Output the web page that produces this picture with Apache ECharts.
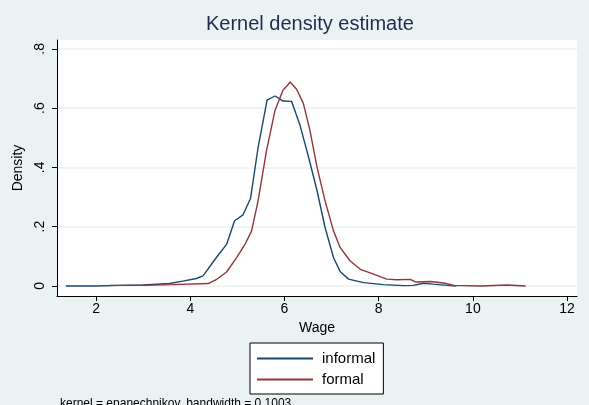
<!DOCTYPE html>
<html><head><meta charset="utf-8">
<script src="https://cdn.jsdelivr.net/npm/echarts@6/dist/echarts.min.js"></script>
<style>html,body{margin:0;padding:0;background:#EAF2F3}#c{width:589px;height:405px}</style>
</head><body><div id="c"></div>
<script>
const informalX = [1.36,2.0,2.5,3.0,3.56,3.84,4.13,4.27,4.55,4.77,4.94,5.12,5.28,5.44,5.63,5.80,5.97,6.15,6.33,6.51,6.69,6.86,7.04,7.18,7.36,7.68,8.10,8.53,8.73,8.95,9.16,9.52,9.65];
const informalY = [0.0,0.0,0.002,0.003,0.008,0.016,0.025,0.034,0.095,0.14,0.22,0.24,0.296,0.468,0.627,0.641,0.624,0.623,0.542,0.435,0.322,0.198,0.096,0.049,0.023,0.011,0.0045,0.001,0.002,0.009,0.006,0.001,0.0];
const formalX = [2.28,2.92,3.63,4.38,4.55,4.77,4.98,5.16,5.30,5.44,5.62,5.80,5.97,6.05,6.12,6.26,6.40,6.54,6.69,6.86,7.04,7.18,7.39,7.61,7.89,8.17,8.39,8.67,8.78,9.10,9.38,9.60,10.16,10.73,11.12];
const formalY = [0.002,0.002,0.0045,0.008,0.021,0.047,0.095,0.14,0.185,0.288,0.458,0.593,0.661,0.675,0.688,0.663,0.616,0.525,0.401,0.288,0.186,0.13,0.085,0.056,0.04,0.023,0.021,0.022,0.0135,0.0147,0.010,0.002,0.0,0.003,0.0];
const xTicks = [2,4,6,8,10,12];
const yTicks = [0,0.2,0.4,0.6,0.8];
const yTickLabels = ['0','.2','.4','.6','.8'];
const seriesNames = ['informal','formal'];

const zip = (a,b)=>a.map((v,i)=>[v,b[i]]);
const chart = echarts.init(document.getElementById('c'));
const font = 'Liberation Sans, Arial, sans-serif';
chart.setOption({
  backgroundColor:'#EAF2F3',
  animation:false,
  title:[{text:'Kernel density estimate',left:201,top:9,
    textStyle:{fontFamily:font,fontSize:20,fontWeight:'normal',color:'#1E2D4F'}},
    {text:'kernel = epanechnikov, bandwidth = 0.1003',left:55,top:393,
    textStyle:{fontFamily:font,fontSize:12,fontWeight:'normal',color:'#000'}}],
  grid:{left:57,right:12,top:40,bottom:109,show:true,backgroundColor:'#fff',borderWidth:0},
  xAxis:{type:'value',min:1.17,max:12.21,
    name:'Wage',nameLocation:'middle',nameGap:24,nameTextStyle:{fontFamily:font,fontSize:14,color:'#000'},
    axisLine:{onZero:false,lineStyle:{color:'#000',width:1}},
    axisTick:{customValues:xTicks,length:5,lineStyle:{color:'#000'}},
    axisLabel:{customValues:xTicks,fontFamily:font,fontSize:14,color:'#000',margin:6},
    splitLine:{show:false}},
  yAxis:{type:'value',min:-0.034,max:0.83,
    name:'Density',nameLocation:'middle',nameGap:27,nameRotate:90,nameTextStyle:{fontFamily:font,fontSize:14,color:'#000'},
    axisLine:{show:true,onZero:false,lineStyle:{color:'#000',width:1}},
    axisTick:{show:true,customValues:yTicks,length:5,lineStyle:{color:'#000'}},
    axisLabel:{customValues:yTicks,rotate:90,fontFamily:font,fontSize:14,color:'#000',margin:10,
      formatter:v=>{const i=yTicks.findIndex(t=>Math.abs(t-v)<1e-9);return i>=0?yTickLabels[i]:'';}},
    splitLine:{show:true,lineStyle:{color:'#EAF2F3',width:1.5}}},
  legend:{orient:'vertical',left:250,top:343,itemWidth:56,itemHeight:2,itemGap:6,icon:'rect',
    backgroundColor:'#fff',borderColor:'#000',borderWidth:1,padding:[8,8,7,7],
    textStyle:{fontFamily:font,fontSize:15,color:'#000',lineHeight:14,padding:[0,0,0,4]},data:seriesNames},
  series:[
    {name:seriesNames[0],type:'line',data:zip(informalX,informalY),symbol:'none',smooth:false,
      lineStyle:{color:'#1A476F',width:1.4},itemStyle:{color:'#1A476F'}},
    {name:seriesNames[1],type:'line',data:zip(formalX,formalY),symbol:'none',smooth:false,
      lineStyle:{color:'#90353B',width:1.4},itemStyle:{color:'#90353B'}}
  ]
});
</script></body></html>
